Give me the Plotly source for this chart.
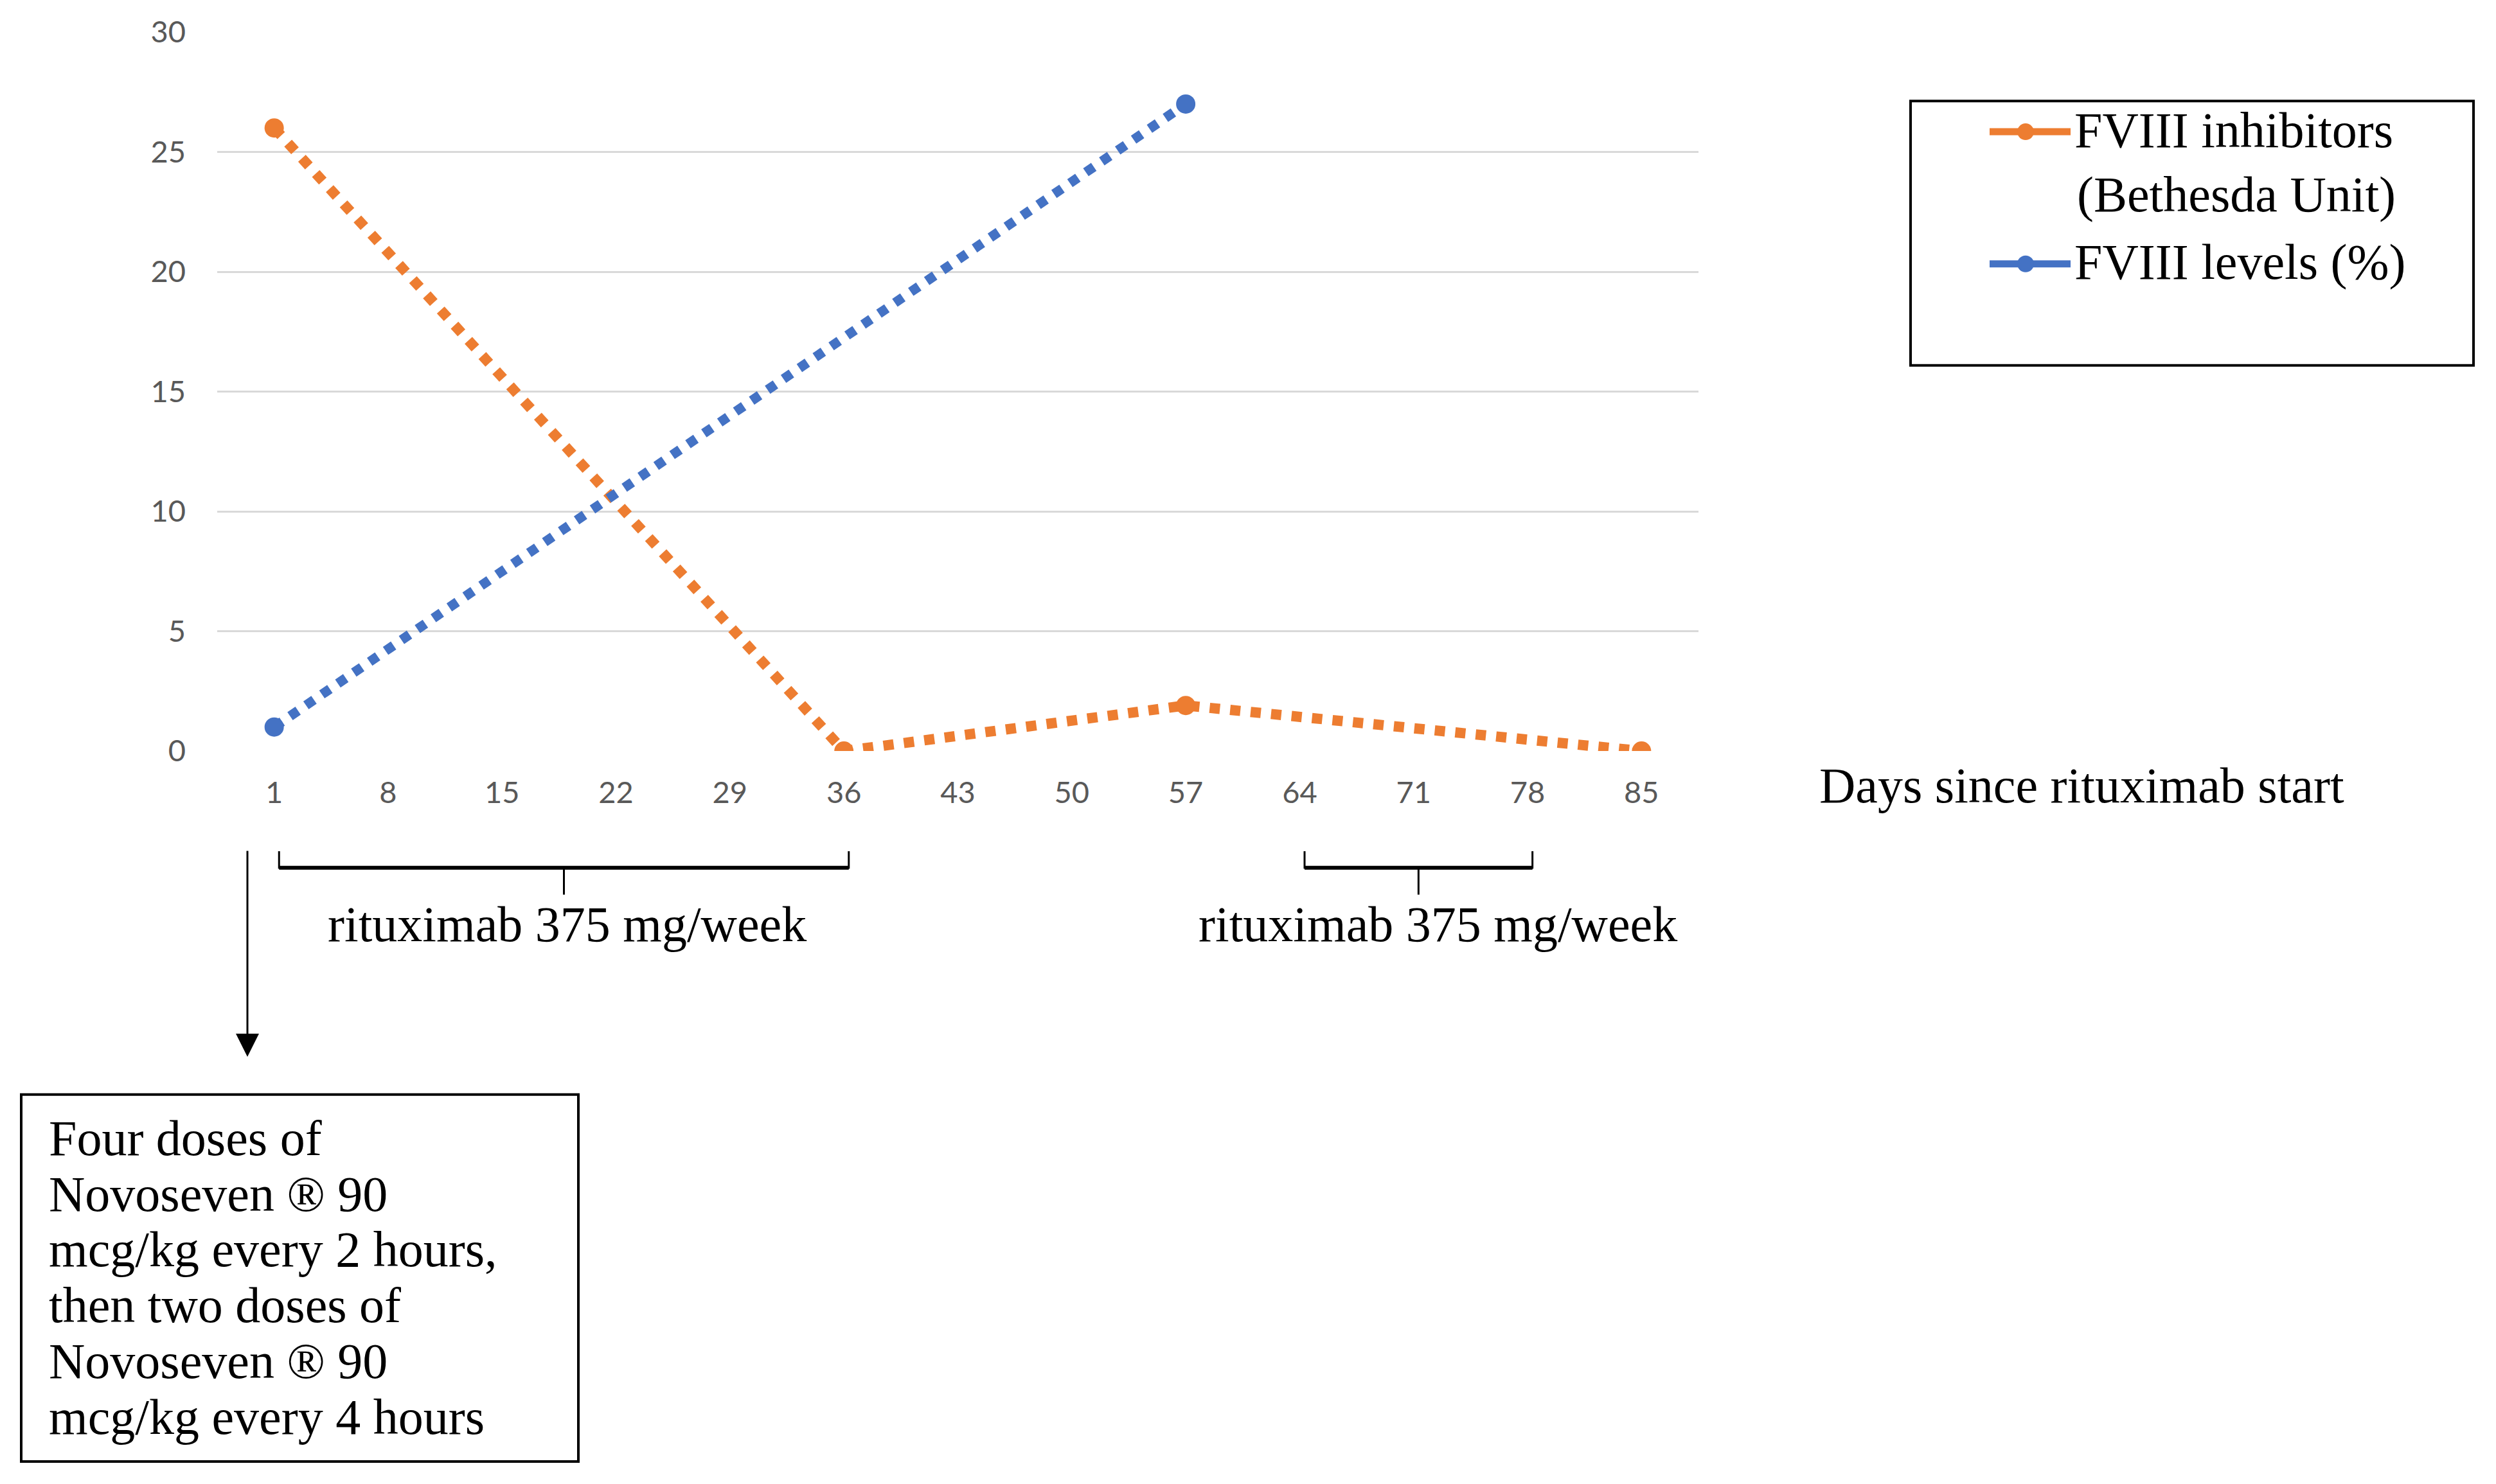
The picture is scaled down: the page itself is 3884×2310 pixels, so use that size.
import plotly.graph_objects as go

# ---------------- data ----------------
days_ticks = [1, 8, 15, 22, 29, 36, 43, 50, 57, 64, 71, 78, 85]
inhib_days = [1, 36, 57, 85]
inhib_vals = [26, 0, 1.9, 0]
level_days = [1, 57]
level_vals = [1, 27]
y_ticks = [0, 5, 10, 15, 20, 25, 30]

legend_names = ["FVIII inhibitors", "(Bethesda Unit)", "FVIII levels (%)"]
bracket_label = "rituximab 375 mg/week"
bracket_spans = [(1, 36), (64, 78)]
box_lines = ["Four doses of", "Novoseven \u00ae 90", "mcg/kg every 2 hours,",
             "then two doses of", "Novoseven \u00ae 90", "mcg/kg every 4 hours"]
x_title = "Days since rituximab start"

ORANGE = "#ED7D31"
BLUE = "#4472C4"
W, H = 3884, 2310
OFF = 8  # page body margin
L, R, T, B = 338, 2643, 43, 1169   # plot area in screenshot pixels
PW, PH = R - L, B - T


def xp(px):
    return (px - L) / PW


def yp(py):
    return (B - py) / PH


SERIF = "Liberation Serif"
FS = 78
BR_SHIFT = 0.3                 # brackets drawn slightly right of the day marks
BR_TEXT_X = [882, 2237]        # label centres (screen px)

fig = go.Figure()
fig.add_trace(go.Scatter(x=inhib_days, y=inhib_vals, mode="lines+markers",
                         line=dict(color=ORANGE, width=16, dash="dot"),
                         marker=dict(color=ORANGE, size=30),
                         name=legend_names[0] + " " + legend_names[1], showlegend=False))
fig.add_trace(go.Scatter(x=level_days, y=level_vals, mode="lines+markers",
                         line=dict(color=BLUE, width=15, dash="dot"),
                         marker=dict(color=BLUE, size=30),
                         name=legend_names[2], showlegend=False))

shapes = []
annotations = []

# legend box (manual)
shapes.append(dict(type="rect", xref="paper", yref="paper",
                   x0=xp(2973), x1=xp(3849), y0=yp(151), y1=yp(565),
                   line=dict(color="black", width=4), fillcolor="rgba(0,0,0,0)"))
for color, py in [(ORANGE, 199), (BLUE, 406)]:
    shapes.append(dict(type="line", xref="paper", yref="paper",
                       x0=xp(3096), x1=xp(3222), y0=yp(py), y1=yp(py),
                       line=dict(color=color, width=11)))
    r = 13
    shapes.append(dict(type="circle", xref="paper", yref="paper",
                       x0=xp(3152 - r), x1=xp(3152 + r), y0=yp(py - r), y1=yp(py + r),
                       fillcolor=color, line=dict(color=color, width=0)))
for txt, px, py in [(legend_names[0], 3226, 196), (legend_names[1], 3230, 297),
                    (legend_names[2], 3226, 403)]:
    annotations.append(dict(text=txt, xref="paper", yref="paper", x=xp(px), y=yp(py),
                            xanchor="left", yanchor="middle", showarrow=False,
                            font=dict(family=SERIF, size=FS, color="black")))

# x axis title
annotations.append(dict(text=x_title, xref="paper", yref="paper", x=xp(2829), y=yp(1223),
                        xanchor="left", yanchor="middle", showarrow=False,
                        font=dict(family=SERIF, size=FS, color="black")))

# brackets
for (d0, d1), tx in zip(bracket_spans, BR_TEXT_X):
    a, b = d0 + BR_SHIFT, d1 + BR_SHIFT
    dm = (a + b) / 2
    shapes.append(dict(type="path", xref="x", yref="paper",
                       path=f"M {a},{yp(1326)} L {a},{yp(1352)} L {b},{yp(1352)} L {b},{yp(1326)}",
                       line=dict(color="black", width=3)))
    shapes.append(dict(type="line", xref="x", yref="paper", x0=a, x1=b,
                       y0=yp(1352), y1=yp(1352), line=dict(color="black", width=6)))
    shapes.append(dict(type="line", xref="x", yref="paper", x0=dm, x1=dm,
                       y0=yp(1352), y1=yp(1394), line=dict(color="black", width=3)))
    annotations.append(dict(text=bracket_label, xref="paper", yref="paper", x=xp(tx), y=yp(1440),
                            xanchor="center", yanchor="middle", showarrow=False,
                            font=dict(family=SERIF, size=FS, color="black")))

# arrow to the note box
annotations.append(dict(text="", xref="paper", yref="paper", x=xp(385), y=yp(1648),
                        ax=0, ay=-322, axref="pixel", ayref="pixel", showarrow=True,
                        arrowhead=2, arrowsize=2.4, arrowwidth=3, arrowcolor="black",
                        standoff=0))

# note box
shapes.append(dict(type="rect", xref="paper", yref="paper",
                   x0=xp(33), x1=xp(900), y0=yp(1707), y1=yp(2282),
                   line=dict(color="black", width=4), fillcolor="rgba(0,0,0,0)"))
for i, txt in enumerate(box_lines):
    py = 1775 + i * 87.4
    annotations.append(dict(text=txt, xref="paper", yref="paper", x=xp(74), y=yp(py),
                            xanchor="left", yanchor="middle", showarrow=False,
                            font=dict(family=SERIF, size=FS, color="black")))

FW, FH = W - 2 * OFF, H - 2 * OFF
fig.update_layout(
    width=FW, height=FH,
    margin=dict(l=L - OFF, r=FW - (R - OFF), t=T - OFF, b=FH - (B - OFF), pad=0),
    paper_bgcolor="white", plot_bgcolor="white",
    showlegend=False,
    shapes=shapes, annotations=annotations,
    xaxis=dict(range=[-2.5, 88.5], tickvals=days_ticks, ticktext=[str(d) for d in days_ticks],
               showgrid=False, zeroline=False, showline=False,
               tickfont=dict(family="Lato", size=47, color="#595959"),
               ticklabelstandoff=33),
    yaxis=dict(range=[0, 30], tickvals=y_ticks, showgrid=True, gridcolor="#D9D9D9",
               gridwidth=3, zeroline=False, showline=False,
               tickfont=dict(family="Lato", size=47, color="#595959"),
               ticklabelstandoff=48),
)

fig.write_html("out.html")
